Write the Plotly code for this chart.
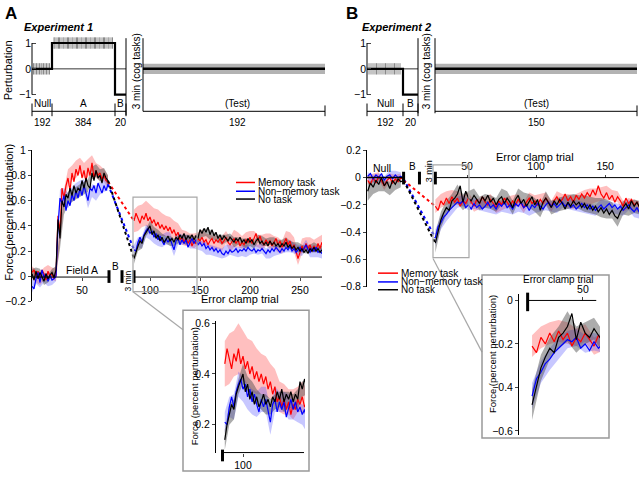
import plotly.graph_objects as go

# ====================== DATA ======================
SERIES_NAMES = ["Memory task", "Non\u2212memory task", "No task"]

# ---- Panel A (Experiment 1) ----
# schematic of the perturbation schedule
A_blocks = ["Null", "A", "B"]
A_block_trials = [192, 384, 20]
A_block_levels = [0, 1, -1]
A_block_edges = [0, 20, 83, 94]          # schematic display units
A_test_trials = 192
A_clamp_marks_null = [1.5, 3, 4.5, 6, 7.5, 9, 10, 11.5, 13, 14.5, 16, 17.5]
A_clamp_marks_field = [22, 23, 25, 26.5, 27.5, 29, 31, 32, 34, 35.5, 36.5, 38, 40, 41, 43,
                       44.5, 45.5, 47, 49, 50, 52, 53.5, 54.5, 56, 58, 59, 61, 62.5, 63.5,
                       65, 67, 68, 70, 71.5, 72.5, 74, 76, 77, 79, 80.5]

# training (Null + Field A), by block
A_train_block = list(range(0, 77, 2))
A_train_memory = [0.03, 0.05, 0.00, 0.04, -0.02, 0.05, 0.02, -0.03, 0.04, 0.00, 0.02, -0.02, 0.01,
                  0.48, 0.35, 0.70, 0.62, 0.72, 0.78, 0.68, 0.82, 0.75, 0.85, 0.80, 0.88, 0.78,
                  0.84, 0.75, 0.86, 0.80, 0.90, 0.78, 0.84, 0.80, 0.82, 0.77, 0.80, 0.76, 0.75]
A_train_nonmemory = [-0.08, -0.10, -0.02, 0.03, -0.05, 0.05, -0.01, 0.02, -0.04, 0.01, -0.03, -0.02, 0.00,
                     0.40, 0.62, 0.58, 0.64, 0.52, 0.60, 0.56, 0.65, 0.60, 0.68, 0.62, 0.70, 0.64,
                     0.72, 0.66, 0.60, 0.70, 0.68, 0.72, 0.66, 0.74, 0.70, 0.66, 0.72, 0.68, 0.73]
A_train_notask = [0.02, -0.03, 0.04, -0.02, 0.03, 0.00, -0.04, 0.02, -0.02, 0.01, 0.03, -0.01, 0.05,
                  0.45, 0.30, 0.60, 0.55, 0.65, 0.62, 0.70, 0.64, 0.72, 0.66, 0.70, 0.68, 0.76,
                  0.70, 0.78, 0.72, 0.70, 0.82, 0.76, 0.84, 0.78, 0.80, 0.74, 0.82, 0.78, 0.76]
# SEM at every other block
A_train_sem_memory = [0.05, 0.05, 0.05, 0.05, 0.05, 0.05, 0.05,
                      0.08, 0.07, 0.07, 0.06, 0.07, 0.06, 0.06, 0.07, 0.06, 0.06, 0.06, 0.05, 0.05]
A_train_sem_nonmemory = [0.05, 0.04, 0.04, 0.04, 0.04, 0.04, 0.04,
                         0.07, 0.06, 0.06, 0.06, 0.06, 0.06, 0.05, 0.06, 0.05, 0.06, 0.05, 0.05, 0.05]
A_train_sem_notask = [0.04, 0.03, 0.03, 0.03, 0.03, 0.03, 0.03,
                      0.08, 0.06, 0.05, 0.05, 0.05, 0.05, 0.05, 0.05, 0.05, 0.05, 0.05, 0.04, 0.04]

# error clamp (test), by trial
A_clamp_trials = list(range(84, 273, 2))
A_clamp_memory = [0.44, 0.50, 0.46, 0.42, 0.48, 0.45, 0.50, 0.44, 0.47, 0.42,
                  0.45, 0.40, 0.43, 0.38, 0.41, 0.37, 0.40, 0.36, 0.39, 0.34,
                  0.37, 0.32, 0.35, 0.29, 0.31, 0.27, 0.30, 0.26, 0.29, 0.24,
                  0.28, 0.26, 0.30, 0.28, 0.31, 0.27, 0.29, 0.25, 0.28, 0.30,
                  0.26, 0.29, 0.27, 0.30, 0.26, 0.28, 0.31, 0.27, 0.25, 0.28,
                  0.30, 0.26, 0.29, 0.24, 0.27, 0.25, 0.29, 0.27, 0.31, 0.26,
                  0.30, 0.34, 0.28, 0.32, 0.27, 0.25, 0.29, 0.26, 0.28, 0.24,
                  0.27, 0.30, 0.25, 0.28, 0.23, 0.26, 0.30, 0.25, 0.28, 0.22,
                  0.25, 0.20, 0.14, 0.19, 0.24, 0.21, 0.26, 0.22, 0.25, 0.20,
                  0.24, 0.21, 0.26, 0.22, 0.27]
A_clamp_nonmemory = [0.21, 0.20, 0.27, 0.31, 0.27, 0.33, 0.36, 0.38, 0.34, 0.36,
                     0.31, 0.34, 0.29, 0.32, 0.28, 0.25, 0.30, 0.27, 0.30, 0.25,
                     0.21, 0.28, 0.30, 0.25, 0.29, 0.26, 0.29, 0.23, 0.27, 0.30,
                     0.26, 0.29, 0.25, 0.27, 0.24, 0.26, 0.22, 0.24, 0.21, 0.23,
                     0.20, 0.22, 0.19, 0.21, 0.18, 0.17, 0.20, 0.18, 0.21, 0.19,
                     0.20, 0.22, 0.19, 0.21, 0.20, 0.22, 0.20, 0.23, 0.21, 0.20,
                     0.22, 0.19, 0.21, 0.20, 0.22, 0.20, 0.18, 0.21, 0.19, 0.22,
                     0.20, 0.23, 0.21, 0.19, 0.22, 0.20, 0.23, 0.21, 0.24, 0.20,
                     0.22, 0.19, 0.21, 0.23, 0.20, 0.22, 0.25, 0.21, 0.19, 0.22,
                     0.20, 0.23, 0.19, 0.20, 0.18]
A_clamp_notask = [0.14, 0.20, 0.24, 0.28, 0.26, 0.32, 0.35, 0.38, 0.40, 0.33,
                  0.36, 0.30, 0.33, 0.28, 0.31, 0.27, 0.29, 0.32, 0.28, 0.30,
                  0.27, 0.31, 0.29, 0.33, 0.30, 0.34, 0.29, 0.32, 0.30, 0.33,
                  0.29, 0.32, 0.30, 0.37, 0.34, 0.38, 0.35, 0.39, 0.33, 0.37,
                  0.32, 0.35, 0.30, 0.33, 0.29, 0.32, 0.30, 0.28, 0.31, 0.29,
                  0.27, 0.30, 0.28, 0.31, 0.27, 0.29, 0.26, 0.30, 0.27, 0.29,
                  0.25, 0.28, 0.30, 0.26, 0.28, 0.25, 0.27, 0.24, 0.28, 0.25,
                  0.27, 0.24, 0.26, 0.23, 0.26, 0.24, 0.27, 0.23, 0.25, 0.22,
                  0.24, 0.21, 0.23, 0.20, 0.22, 0.19, 0.21, 0.18, 0.22, 0.20,
                  0.23, 0.20, 0.22, 0.19, 0.21]
A_clamp_sem_memory = [0.09, 0.10, 0.09, 0.10, 0.10, 0.09, 0.10, 0.09, 0.08, 0.08, 0.07, 0.07,
                      0.06, 0.06, 0.05, 0.06, 0.05, 0.06, 0.05, 0.05, 0.06, 0.05, 0.06, 0.05,
                      0.06, 0.07, 0.06, 0.05, 0.06, 0.05, 0.06, 0.05, 0.06, 0.05, 0.06, 0.05,
                      0.06, 0.05, 0.06, 0.07, 0.06, 0.05, 0.06, 0.05, 0.06, 0.05, 0.05, 0.06]
A_clamp_sem_nonmemory = [0.04, 0.04, 0.05, 0.05, 0.05, 0.05, 0.05, 0.05, 0.05, 0.05, 0.05, 0.05,
                         0.04, 0.04, 0.05, 0.04, 0.04, 0.04, 0.05, 0.04, 0.04, 0.04, 0.04, 0.05,
                         0.04, 0.04, 0.04, 0.04, 0.05, 0.04, 0.04, 0.04, 0.04, 0.04, 0.05, 0.04,
                         0.04, 0.04, 0.04, 0.05, 0.04, 0.04, 0.04, 0.04, 0.04, 0.05, 0.04, 0.04]
A_clamp_sem_notask = [0.04, 0.04, 0.04, 0.03, 0.04, 0.03, 0.04, 0.03, 0.03, 0.04, 0.03, 0.03,
                      0.03, 0.04, 0.03, 0.03, 0.04, 0.03, 0.03, 0.04, 0.03, 0.03, 0.04, 0.03,
                      0.03, 0.04, 0.03, 0.03, 0.04, 0.03, 0.03, 0.03, 0.04, 0.03, 0.03, 0.04,
                      0.03, 0.03, 0.04, 0.03, 0.03, 0.04, 0.03, 0.03, 0.03, 0.04, 0.03, 0.03]
A_train_ticks = [50]
A_clamp_ticks = [100, 150, 200, 250]
A_inset_ticks = [100]

# ---- Panel B (Experiment 2) ----
B_blocks = ["Null", "B"]
B_block_trials = [192, 20]
B_block_levels = [0, -1]
B_block_edges = [0, 36, 51]               # schematic display units
B_test_trials = 150
B_clamp_marks_null = [2, 4, 6, 8, 9.5, 11, 13, 15, 17, 18.5, 20, 22, 24, 26, 27.5, 29, 31, 33]

B_null_pos = list(range(-22, 5, 2))
B_null_memory = [-0.02, -0.05, 0.00, -0.04, 0.01, -0.03, -0.06, -0.02, 0.00, -0.04, -0.01, -0.03, 0.00, -0.02]
B_null_nonmemory = [0.01, 0.03, -0.01, 0.02, 0.00, 0.03, -0.02, 0.01, 0.02, -0.01, 0.02, 0.00, 0.01, -0.01]
B_null_notask = [-0.10, -0.04, -0.07, -0.02, -0.05, 0.00, -0.06, -0.03, -0.08, -0.02, -0.05, -0.01, -0.03, -0.02]
B_null_sem_memory = [0.03, 0.03, 0.03, 0.03, 0.03, 0.03, 0.03]
B_null_sem_nonmemory = [0.03, 0.03, 0.03, 0.03, 0.03, 0.03, 0.03]
B_null_sem_notask = [0.07, 0.05, 0.05, 0.04, 0.05, 0.04, 0.04]

B_clamp_trials = list(range(27, 176, 2))
B_clamp_memory = [-0.21, -0.24, -0.17, -0.20, -0.15, -0.19, -0.14, -0.18, -0.15, -0.21,
                  -0.17, -0.19, -0.15, -0.18, -0.21, -0.16, -0.19, -0.14, -0.18, -0.20,
                  -0.16, -0.19, -0.22, -0.17, -0.20, -0.15, -0.18, -0.21, -0.17, -0.20,
                  -0.16, -0.19, -0.22, -0.18, -0.15, -0.19, -0.17, -0.20, -0.16, -0.19,
                  -0.15, -0.18, -0.21, -0.17, -0.14, -0.18, -0.16, -0.12, -0.17, -0.14,
                  -0.18, -0.13, -0.16, -0.12, -0.15, -0.11, -0.14, -0.09, -0.13, -0.06,
                  -0.12, -0.15, -0.11, -0.16, -0.13, -0.18, -0.14, -0.17, -0.21, -0.15,
                  -0.19, -0.16, -0.20, -0.18, -0.22]
B_clamp_nonmemory = [-0.44, -0.36, -0.33, -0.29, -0.27, -0.24, -0.22, -0.20, -0.18, -0.19,
                     -0.17, -0.22, -0.20, -0.23, -0.19, -0.22, -0.20, -0.23, -0.21, -0.18,
                     -0.22, -0.20, -0.23, -0.19, -0.21, -0.18, -0.22, -0.20, -0.23, -0.19,
                     -0.21, -0.18, -0.22, -0.20, -0.24, -0.20, -0.22, -0.19, -0.21, -0.23,
                     -0.20, -0.18, -0.21, -0.19, -0.22, -0.20, -0.18, -0.21, -0.19, -0.22,
                     -0.20, -0.23, -0.21, -0.19, -0.22, -0.20, -0.23, -0.21, -0.24, -0.22,
                     -0.20, -0.23, -0.21, -0.19, -0.22, -0.20, -0.23, -0.21, -0.24, -0.22,
                     -0.20, -0.23, -0.25, -0.22, -0.26]
B_clamp_notask = [-0.48, -0.40, -0.31, -0.26, -0.22, -0.24, -0.17, -0.15, -0.12, -0.06,
                  -0.18, -0.10, -0.15, -0.17, -0.13, -0.16, -0.19, -0.14, -0.17, -0.13,
                  -0.18, -0.15, -0.20, -0.16, -0.14, -0.19, -0.15, -0.18, -0.22, -0.16,
                  -0.13, -0.19, -0.16, -0.21, -0.17, -0.14, -0.20, -0.16, -0.24, -0.18,
                  -0.15, -0.19, -0.22, -0.17, -0.20, -0.16, -0.19, -0.23, -0.18, -0.21,
                  -0.17, -0.20, -0.18, -0.22, -0.19, -0.23, -0.20, -0.24, -0.21, -0.25,
                  -0.22, -0.26, -0.23, -0.27, -0.24, -0.28, -0.30, -0.25, -0.22, -0.19,
                  -0.23, -0.17, -0.21, -0.18, -0.22]
B_clamp_sem_memory = [0.05, 0.05, 0.05, 0.05, 0.05, 0.04, 0.04, 0.04, 0.04, 0.04,
                      0.04, 0.04, 0.04, 0.04, 0.04, 0.04, 0.04, 0.04, 0.04, 0.04,
                      0.04, 0.04, 0.04, 0.04, 0.05, 0.05, 0.05, 0.06, 0.06, 0.05,
                      0.05, 0.05, 0.04, 0.04, 0.04, 0.04, 0.04, 0.04]
B_clamp_sem_nonmemory = [0.06, 0.05, 0.05, 0.05, 0.04, 0.04, 0.04, 0.04, 0.04, 0.04,
                         0.04, 0.04, 0.04, 0.04, 0.04, 0.04, 0.04, 0.04, 0.04, 0.04,
                         0.04, 0.04, 0.04, 0.04, 0.04, 0.04, 0.04, 0.04, 0.04, 0.04,
                         0.04, 0.04, 0.04, 0.04, 0.04, 0.04, 0.04, 0.04]
B_clamp_sem_notask = [0.07, 0.06, 0.05, 0.05, 0.07, 0.06, 0.05, 0.05, 0.05, 0.05,
                      0.05, 0.05, 0.06, 0.05, 0.05, 0.05, 0.05, 0.05, 0.05, 0.05,
                      0.05, 0.05, 0.05, 0.05, 0.05, 0.05, 0.05, 0.06, 0.06, 0.06,
                      0.07, 0.07, 0.06, 0.06, 0.05, 0.05, 0.05, 0.05]
B_clamp_ticks = [50, 100, 150]
B_inset_ticks = [50]

# ====================== STYLE / LAYOUT ======================
W, H = 640, 480
FONT = "Liberation Sans, Arial, Helvetica, sans-serif"
LINE_COLORS = ["#ff0000", "#0000ff", "#000000"]
BAND_COLORS = ["rgba(255,60,60,0.33)", "rgba(70,70,255,0.30)", "rgba(70,70,70,0.45)"]
A_CLAMP_OFFSET = 18   # error-clamp trials are drawn after the break markers


def PX(x):
    return x / W


def PY(y):
    return 1 - y / H


def xmap(u, dom, rng):
    return dom[0] + (u - rng[0]) / (rng[1] - rng[0]) * (dom[1] - dom[0])


fig = go.Figure()


def add_band(x, m, sem, color, xa, ya):
    bx = x[::2]
    bm = m[::2]
    n = min(len(bx), len(sem))
    up = [bm[i] + sem[i] for i in range(n)]
    lo = [bm[i] - sem[i] for i in range(n)]
    fig.add_trace(go.Scatter(x=list(bx[:n]) + list(bx[:n])[::-1], y=up + lo[::-1],
                             fill="toself", fillcolor=color, line=dict(width=0),
                             mode="lines", hoverinfo="skip", showlegend=False,
                             xaxis=xa, yaxis=ya))


def add_line(x, y, color, xa, ya, width=1.2, dash=None):
    fig.add_trace(go.Scatter(x=list(x), y=list(y), mode="lines",
                             line=dict(color=color, width=width, dash=dash),
                             hoverinfo="skip", showlegend=False, xaxis=xa, yaxis=ya))


# ---------- top schematics ----------
def schematic(edges, levels, marks_by_level, xa, ya):
    sx, sy = [], []
    for i, lv in enumerate(levels):
        sx += [edges[i], edges[i + 1]]
        sy += [lv, lv]
    add_line([edges[0], edges[-1]], [0, 0], "black", xa, ya, width=0.8)
    tx, ty = [], []
    for marks, lv in marks_by_level:
        for m in marks:
            tx += [m, m, None]
            ty += [lv - 0.22, lv + 0.22, None]
    add_line(tx, ty, "#8a8a8a", xa, ya, width=1)
    add_line(sx, sy, "black", xa, ya, width=2.2)


def test_schematic(n, xa, ya):
    fig.add_trace(go.Scatter(x=[0, n, n, 0], y=[-0.2, -0.2, 0.2, 0.2], fill="toself",
                             fillcolor="#b3b3b3", line=dict(width=0), mode="lines",
                             hoverinfo="skip", showlegend=False, xaxis=xa, yaxis=ya))
    add_line([0, n], [0, 0], "black", xa, ya, width=2.5)


schematic(A_block_edges, A_block_levels,
          [(A_clamp_marks_null, 0), (A_clamp_marks_field, 1)], "x", "y")
test_schematic(A_test_trials, "x2", "y2")
schematic(B_block_edges, B_block_levels, [(B_clamp_marks_null, 0)], "x3", "y3")
test_schematic(B_test_trials, "x4", "y4")

# ---------- panel A data ----------
A_tr = [A_train_memory, A_train_nonmemory, A_train_notask]
A_tr_sem = [A_train_sem_memory, A_train_sem_nonmemory, A_train_sem_notask]
A_cl = [A_clamp_memory, A_clamp_nonmemory, A_clamp_notask]
A_cl_sem = [A_clamp_sem_memory, A_clamp_sem_nonmemory, A_clamp_sem_notask]
A_cl_x = [t + A_CLAMP_OFFSET for t in A_clamp_trials]

for i in range(3):
    add_band(A_train_block, A_tr[i], A_tr_sem[i], BAND_COLORS[i], "x5", "y5")
    add_band(A_cl_x, A_cl[i], A_cl_sem[i], BAND_COLORS[i], "x5", "y5")
    add_band(A_clamp_trials, A_cl[i], A_cl_sem[i], BAND_COLORS[i], "x6", "y6")
for i in range(3):
    add_line(A_train_block, A_tr[i], LINE_COLORS[i], "x5", "y5")
    add_line(A_cl_x, A_cl[i], LINE_COLORS[i], "x5", "y5")
    add_line([A_train_block[-1], A_cl_x[0]], [A_tr[i][-1], A_cl[i][0]],
             LINE_COLORS[i], "x5", "y5", width=2, dash="dot")
    add_line(A_clamp_trials, A_cl[i], LINE_COLORS[i], "x6", "y6")

# ---------- panel B data ----------
B_nu = [B_null_memory, B_null_nonmemory, B_null_notask]
B_nu_sem = [B_null_sem_memory, B_null_sem_nonmemory, B_null_sem_notask]
B_cl = [B_clamp_memory, B_clamp_nonmemory, B_clamp_notask]
B_cl_sem = [B_clamp_sem_memory, B_clamp_sem_nonmemory, B_clamp_sem_notask]
for i in range(3):
    add_band(B_null_pos, B_nu[i], B_nu_sem[i], BAND_COLORS[i], "x7", "y7")
    add_band(B_clamp_trials, B_cl[i], B_cl_sem[i], BAND_COLORS[i], "x7", "y7")
    add_band(B_clamp_trials, B_cl[i], B_cl_sem[i], BAND_COLORS[i], "x8", "y8")
for i in range(3):
    add_line(B_null_pos, B_nu[i], LINE_COLORS[i], "x7", "y7")
    add_line(B_clamp_trials, B_cl[i], LINE_COLORS[i], "x7", "y7")
    add_line([B_null_pos[-1], B_clamp_trials[0]], [B_nu[i][-1], B_cl[i][0]],
             LINE_COLORS[i], "x7", "y7", width=2, dash="dot")
    add_line(B_clamp_trials, B_cl[i], LINE_COLORS[i], "x8", "y8")

# ---------- axes ----------
TOP_Y = (97.6, 28.7)
TOP_RANGE = [-1.25, 1.35]
A_TOP_DOM = (32, 126)
A_TEST_DOM = (143, 325)
B_TOP_DOM = (367, 418)
B_TEST_DOM = (435, 637)
A_MAIN_X = (32, 322)
A_MAIN_XR = [0, 290]
A_MAIN_Y = (303, 148)
A_IN_X = (216, 305)
A_IN_XR = [76.3, 154.4]
A_IN_Y = (458, 322.8)
B_MAIN_X = (367, 639)
B_MAIN_XR = [-22.5, 174.5]
B_MAIN_Y = (288, 148)
B_IN_X = (519, 600)
B_IN_XR = [21.1, 57.7]
B_IN_Y = (440.3, 295.3)

tickfont = dict(family=FONT, size=10.5, color="black")


def xdom(d):
    return [PX(d[0]), PX(d[1])]


def ydom(d):
    return [PY(d[0]), PY(d[1])]


hidden = dict(visible=False, showgrid=False, zeroline=False)
layout = dict(
    width=W, height=H, margin=dict(l=0, r=0, t=0, b=0),
    paper_bgcolor="white", plot_bgcolor="rgba(0,0,0,0)", showlegend=False,
    font=dict(family=FONT, size=10.5, color="black"),
    xaxis=dict(domain=xdom(A_TOP_DOM), range=[A_block_edges[0], A_block_edges[-1]], anchor="y", **hidden),
    yaxis=dict(domain=ydom(TOP_Y), range=TOP_RANGE, anchor="x", showgrid=False, zeroline=False,
               showline=False, ticks="inside", ticklen=4, tickvals=[-1, 0, 1], tickfont=tickfont),
    xaxis2=dict(domain=xdom(A_TEST_DOM), range=[0, A_test_trials], anchor="y2", **hidden),
    yaxis2=dict(domain=ydom(TOP_Y), range=TOP_RANGE, anchor="x2", **hidden),
    xaxis3=dict(domain=xdom(B_TOP_DOM), range=[B_block_edges[0], B_block_edges[-1]], anchor="y3", **hidden),
    yaxis3=dict(domain=ydom(TOP_Y), range=TOP_RANGE, anchor="x3", showgrid=False, zeroline=False,
                showline=False, ticks="inside", ticklen=4, tickvals=[-1, 0, 1], tickfont=tickfont),
    xaxis4=dict(domain=xdom(B_TEST_DOM), range=[0, B_test_trials], anchor="y4", **hidden),
    yaxis4=dict(domain=ydom(TOP_Y), range=TOP_RANGE, anchor="x4", **hidden),
    xaxis5=dict(domain=xdom(A_MAIN_X), range=A_MAIN_XR, anchor="free", position=PY(278),
                showline=False, showgrid=False, zeroline=False, ticks="outside", ticklen=3,
                tickvals=A_train_ticks + [t + A_CLAMP_OFFSET for t in A_clamp_ticks],
                ticktext=[str(t) for t in A_train_ticks + A_clamp_ticks], tickfont=tickfont),
    yaxis5=dict(domain=ydom(A_MAIN_Y), range=[-0.2, 1], anchor="x5", showline=True,
                linecolor="black", linewidth=1, showgrid=False, zeroline=False,
                ticks="outside", ticklen=3, tickvals=[-0.2, 0, 0.2, 0.4, 0.6, 0.8, 1],
                tickfont=tickfont),
    xaxis6=dict(domain=xdom(A_IN_X), range=A_IN_XR, anchor="y6", showline=False,
                showgrid=False, zeroline=False, ticks="outside", ticklen=3,
                tickvals=A_inset_ticks, tickfont=tickfont),
    yaxis6=dict(domain=ydom(A_IN_Y), range=[0.09, 0.61], anchor="x6", showline=True,
                linecolor="black", showgrid=False, zeroline=False, ticks="outside",
                ticklen=3, tickvals=[0.2, 0.4, 0.6], tickfont=tickfont),
    xaxis7=dict(domain=xdom(B_MAIN_X), range=B_MAIN_XR, anchor="free", position=PY(176),
                side="top", showline=False, showgrid=False, zeroline=False, ticks="outside",
                ticklen=3, tickvals=B_clamp_ticks, tickfont=tickfont),
    yaxis7=dict(domain=ydom(B_MAIN_Y), range=[-0.8, 0.2], anchor="x7", showline=True,
                linecolor="black", showgrid=False, zeroline=False, ticks="outside",
                ticklen=3, tickvals=[-0.8, -0.6, -0.4, -0.2, 0, 0.2], tickfont=tickfont),
    xaxis8=dict(domain=xdom(B_IN_X), range=B_IN_XR, anchor="free", position=PY(302),
                side="top", showline=False, showgrid=False, zeroline=False, ticks="outside",
                ticklen=3, tickvals=B_inset_ticks, tickfont=tickfont),
    yaxis8=dict(domain=ydom(B_IN_Y), range=[-0.62, 0.03], anchor="x8", showline=True,
                linecolor="black", showgrid=False, zeroline=False, ticks="outside",
                ticklen=3, tickvals=[-0.6, -0.4, -0.2, 0], tickfont=tickfont),
)

shapes = []
annots = []


def L(x0, y0, x1, y1, color="black", width=1):
    shapes.append(dict(type="line", xref="paper", yref="paper", x0=PX(x0), y0=PY(y0),
                       x1=PX(x1), y1=PY(y1), line=dict(color=color, width=width)))


def R(x0, y0, x1, y1, color="#a8a8a8", width=1.2):
    shapes.append(dict(type="rect", xref="paper", yref="paper", x0=PX(x0), y0=PY(y1),
                       x1=PX(x1), y1=PY(y0), line=dict(color=color, width=width)))


def T(x, y, s, size=10.5, angle=0, xanchor="center", yanchor="middle"):
    annots.append(dict(xref="paper", yref="paper", x=PX(x), y=PY(y), text=s, showarrow=False,
                       textangle=angle, xanchor=xanchor, yanchor=yanchor,
                       font=dict(family=FONT, size=size, color="black")))


def top_ypx(v):
    return TOP_Y[0] + (v - TOP_RANGE[0]) / (TOP_RANGE[1] - TOP_RANGE[0]) * (TOP_Y[1] - TOP_Y[0])


# --- top A ---
T(3, 8, "<b>A</b>", size=17, xanchor="left")
T(22, 22, "<b><i>Experiment 1</i></b>", size=11, xanchor="left")
T(8, 66, "Perturbation", size=11, angle=-90)
L(A_TOP_DOM[0], top_ypx(1), A_TOP_DOM[0], top_ypx(-1))
L(126, 33, 126, 112)
L(A_TEST_DOM[0], 33, A_TEST_DOM[0], 108)
T(136, 67, "3 min (cog tasks)", size=10, angle=-90)
rng = [A_block_edges[0], A_block_edges[-1]]
L(A_TOP_DOM[0], 108, A_TOP_DOM[1], 108)
for e in A_block_edges:
    xe = xmap(e, A_TOP_DOM, rng)
    L(xe, 100, xe, 113)
for i, name in enumerate(A_blocks):
    xc = xmap((A_block_edges[i] + A_block_edges[i + 1]) / 2, A_TOP_DOM, rng)
    T(xc, 100, name, size=10)
    T(xc, 119, str(A_block_trials[i]), size=10)
L(A_TEST_DOM[0], 108, A_TEST_DOM[1], 108)
L(A_TEST_DOM[1], 102, A_TEST_DOM[1], 113)
T((A_TEST_DOM[0] + A_TEST_DOM[1]) / 2 + 3, 100, "(Test)", size=10)
T((A_TEST_DOM[0] + A_TEST_DOM[1]) / 2 + 3, 119, str(A_test_trials), size=10)

# --- top B ---
T(344, 8, "<b>B</b>", size=17, xanchor="left")
T(360, 22, "<b><i>Experiment 2</i></b>", size=11, xanchor="left")
L(B_TOP_DOM[0], top_ypx(1), B_TOP_DOM[0], top_ypx(-1))
L(418, 33, 418, 110)
L(B_TEST_DOM[0], 33, B_TEST_DOM[0], 110)
T(426, 67, "3 min (cog tasks)", size=10, angle=-90)
rng = [B_block_edges[0], B_block_edges[-1]]
L(B_TOP_DOM[0], 108, B_TOP_DOM[1], 108)
for e in B_block_edges:
    xe = xmap(e, B_TOP_DOM, rng)
    L(xe, 100, xe, 113)
for i, name in enumerate(B_blocks):
    xc = xmap((B_block_edges[i] + B_block_edges[i + 1]) / 2, B_TOP_DOM, rng)
    T(xc, 100, name, size=10)
    T(xc, 119, str(B_block_trials[i]), size=10)
L(B_TEST_DOM[0], 108, B_TEST_DOM[1], 108)
L(B_TEST_DOM[1], 102, B_TEST_DOM[1], 113)
T((B_TEST_DOM[0] + B_TEST_DOM[1]) / 2, 100, "(Test)", size=10)
T((B_TEST_DOM[0] + B_TEST_DOM[1]) / 2, 119, str(B_test_trials), size=10)

# --- main A ---
ax = lambda u: xmap(u, A_MAIN_X, A_MAIN_XR)
bars_A = [A_train_block[-1] + 1, (A_train_block[-1] + A_cl_x[0]) / 2 + 1, A_cl_x[0]]
L(A_MAIN_X[0], 278, ax(bars_A[0]), 278)
L(ax(bars_A[2]), 278, A_MAIN_X[1], 278)
for b in bars_A:
    L(ax(b), 271, ax(b), 284, width=3)
T(82, 271, "Field A", size=10.5)
T((ax(bars_A[0]) + ax(bars_A[1])) / 2, 267, "B", size=10)
T((ax(bars_A[1]) + ax(bars_A[2])) / 2 - 0.5, 282, "3 min", size=8.5, angle=-90)
T(240, 300, "Error clamp trial", size=11)
T(9, 212, "Force (percent perturbation)", size=11, angle=-90)
R(133, 196, 197, 293)
L(133, 293, 183, 332, color="#a8a8a8", width=1.2)
R(183, 312, 309, 477, color="#999999", width=1.5)
for i, name in enumerate(SERIES_NAMES):
    yy = [181, 190, 198][i]
    L(236, yy, 255, yy, color=LINE_COLORS[i], width=1.5)
    T(256, yy, name, size=10, xanchor="left")
# inset A
aix = lambda u: xmap(u, A_IN_X, A_IN_XR)
L(aix(82), 458, A_IN_X[1] - 1, 458)
L(aix(82), 455, aix(82), 467, width=3)
T(194, 390, "Force (percent perturbation)", size=9.5, angle=-90)

# --- main B ---
bx = lambda u: xmap(u, B_MAIN_X, B_MAIN_XR)
bars_B = [B_null_pos[-1], (B_null_pos[-1] + B_clamp_trials[0]) / 2, B_clamp_trials[0]]
L(B_MAIN_X[0], 176, bx(bars_B[0]), 176, width=1.5)
L(bx(bars_B[2]), 176, B_MAIN_X[1], 176)
for b in bars_B:
    L(bx(b), 170, bx(b), 183, width=3)
T(382, 166, "Null", size=10.5)
T((bx(bars_B[0]) + bx(bars_B[1])) / 2 + 1, 165, "B", size=10)
T((bx(bars_B[1]) + bx(bars_B[2])) / 2 + 1, 169, "3 min", size=9, angle=-90)
T(535, 155, "Error clamp trial", size=11)
R(433, 163, 469, 258)
L(433, 259, 482, 355, color="#a8a8a8", width=1.2)
R(482, 276, 609, 443, color="#999999", width=1.5)
for i, name in enumerate(SERIES_NAMES):
    yy = [274, 283, 291][i]
    L(378, yy, 398, yy, color=LINE_COLORS[i], width=1.5)
    T(399, yy, name, size=10, xanchor="left")
# inset B
bix = lambda u: xmap(u, B_IN_X, B_IN_XR)
L(bix(25), 302, bix(56), 302)
L(bix(25), 294, bix(25), 313, width=3)
T(558, 281, "Error clamp trial", size=10)
T(492, 357, "Force (percent perturbation)", size=9.5, angle=-90)

layout["shapes"] = shapes
layout["annotations"] = annots
fig.update_layout(**layout)
fig.write_html("out.html", config={"displayModeBar": False},
               post_script="document.body.style.margin='0px';document.body.style.padding='0px';")
